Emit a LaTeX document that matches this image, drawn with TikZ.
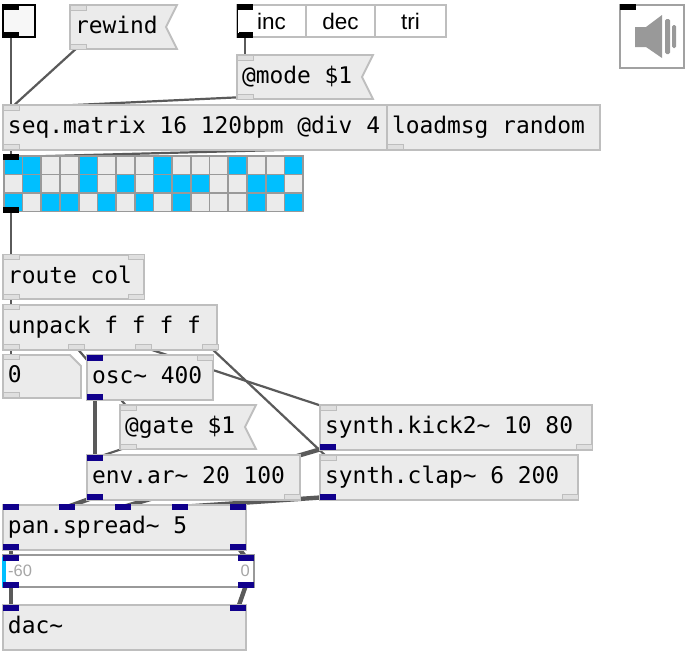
\documentclass[tikz,border=0pt]{standalone}
\usepackage{fontspec}
\setmainfont{Liberation Sans}
\setmonofont{DejaVu Sans Mono}
\definecolor{boxgray}{HTML}{EBEBEB}
\definecolor{edgegray}{HTML}{BEBEBE}
\definecolor{wiregray}{HTML}{5A5A5A}
\definecolor{sigblue}{HTML}{10008C}
\definecolor{stepblue}{HTML}{00BFFF}
\definecolor{gridgray}{HTML}{999999}
\pgfdeclarelayer{wires}
\pgfdeclarelayer{flags}
\pgfsetlayers{wires,flags,main}
\newcommand{\wordgap}{\setlength{\spaceskip}{13.75pt}}
\tikzset{
	obj/.style 2 args = {anchor = north west, inner xsep = 5pt, inner ysep = 0pt, outer sep = 0pt, text width = #1pt - 10pt, minimum height = #2pt, text height = 16pt, text depth = 4pt, align = left, font = \ttfamily\fontsize{22.9}{23}\selectfont, execute at begin node = \wordgap},
	pdbox/.style 2 args = {obj = {#1}{#2}, draw = edgegray, line width = 1.8pt, fill = boxgray},
	pdflag/.style 2 args = {obj = {#1}{#2}},
	flagline/.style = {draw = edgegray, line width = 1.8pt, fill = boxgray, line join = miter},
	tabcell/.style = {anchor = north west, outer sep = 0pt, minimum width = #1pt, minimum height = 32pt, draw = edgegray, line width = 1.8pt, fill = white, font = \fontsize{22.5}{22.5}\selectfont},
	port/.style = {minimum width = 16pt, minimum height = 5pt, inner sep = 0pt, outer sep = 0pt},
	ctlport/.style = {port, fill = boxgray!95!black, draw = edgegray, line width = 1pt},
	sigport/.style = {port, minimum height = 6pt, fill = sigblue},
	uiport/.style = {port, minimum height = 5.5pt, fill = black},
	cell/.style = {minimum width = 17pt, minimum height = 17pt, inner sep = 0pt, outer sep = 0pt},
	wire/.style = {draw = wiregray, line width = 2.2pt},
	sigwire/.style = {draw = wiregray, line width = 4.4pt},
}

\begin{document}
\begin{tikzpicture}[x = 1pt, y = -1pt]
	\useasboundingbox (0, 0) rectangle (688, 656);

	% ui objects
	\node (toggle) at (3, 5) [anchor = north west, minimum width = 32pt, minimum height = 32pt, outer sep = 0pt, draw = black, line width = 2pt, fill = white!97!black] {};
	\node (inc) at (237, 5) [tabcell = 69] {inc};
	\node (dec) at (306, 5) [tabcell = 69] {dec};
	\node (tri) at (375, 5) [tabcell = 71] {tri\hspace{6pt}};
	\node (speaker) at (620, 5) [anchor = north west, minimum width = 64pt, minimum height = 63pt, outer sep = 0pt, draw = edgegray!85!black, line width = 1.6pt, fill = white] {};
	\fill[gridgray] (635, 27) -- (646, 27) -- (662, 15) -- (662, 58) -- (646, 47) -- (635, 47) -- cycle;
	\fill[gridgray, rounded corners = 1.5pt] (665, 19) rectangle (670, 54);
	\fill[gridgray, rounded corners = 1.5pt] (672, 25) rectangle (676, 48);

	% objects
	\node (rewind)  at (70, 5)    [pdflag = {107}{44}] {rewind};
	\node (mode)    at (237, 55)  [pdflag = {136}{44}] {@mode \$1};
	\node (seq)     at (3, 105)   [pdbox = {384}{45}] {seq.matrix 16 120bpm @div 4};
	\node (load)    at (387, 105) [pdbox = {213}{45}] {loadmsg random};
	\node (route)   at (3, 255)   [pdbox = {141}{44}] {route col};
	\node (unpack)  at (3, 305)   [pdbox = {214}{45}] {unpack f f f f};
	\node (num)     at (3, 355)   [pdflag = {78}{43}] {0};
	\node (osc)     at (87, 355)  [pdbox = {126}{45}] {osc\textasciitilde{} 400};
	\node (gate)    at (120, 405) [pdflag = {136}{44}] {@gate \$1};
	\node (kick)    at (320, 405) [pdbox = {272}{45}] {synth.kick2\textasciitilde{} 10 80};
	\node (env)     at (87, 455)  [pdbox = {213}{45}] {env.ar\textasciitilde{} 20 100};
	\node (clap)    at (320, 455) [pdbox = {258}{45}] {synth.clap\textasciitilde{} 6 200};
	\node (pan)     at (3, 505)   [pdbox = {243}{45}] {pan.spread\textasciitilde{} 5};
	\node (dac)     at (3, 605)   [pdbox = {243}{45}] {dac\textasciitilde{}};
	\node (meter)   at (3, 555)   [anchor = north west, minimum width = 251pt, minimum height = 32pt, outer sep = 0pt, draw = gridgray, line width = 1.6pt, fill = white] {};
	\node (cyan)    at (4, 572)   [minimum width = 4pt, minimum height = 30pt, inner sep = 0pt, fill = stepblue] {};
	\node (lo)      at (8, 571)   [anchor = west, inner sep = 0pt, text = gray!70, font = \fontsize{16.5}{16.5}\selectfont] {-60};
	\node (hi)      at (250, 571) [anchor = east, inner sep = 0pt, text = gray!70, font = \fontsize{16.5}{16.5}\selectfont] {0};

	% step matrix
	\node (matrix) at (3, 155) [anchor = north west, minimum width = 301pt, minimum height = 57pt, outer sep = 0pt, fill = gridgray] {};
	\foreach \r/\bits in {0/{1,1,0,0,1,0,0,0,1,0,0,0,1,0,0,1}, 1/{0,1,0,0,1,0,1,0,1,1,1,0,0,1,1,0}, 2/{1,0,1,1,0,1,0,1,0,1,0,0,0,1,0,1}}
		\foreach \b [count = \c from 0] in \bits {
			\ifnum\b=1 \def\cellcol{stepblue}\else \def\cellcol{boxgray}\fi
			\node (cell-\r-\c) at (13.2 + 18.7*\c, 165.2 + 18.7*\r) [cell, fill = \cellcol] {};
		}

	% ports
	\foreach \name/\x/\y in {rewI/78/8, rewO/78/47, modeI/245/58, modeO/245/97, seqI/11/108, seqO/11/147, loadO/395/147, routeI/11/257, routeJ/136/257, routeO/11/297, routeP/136/297, unpI/11/307, unpA/11/347, unpB/76/347, unpC/143/347, unpD/210/347, numI/11/357, numO/11/395, oscJ/205/358, gateI/128/408, gateO/128/447, kickI/328/408, kickP/584/447, clapI/328/458, clapP/570/497, envP/292/497}
		\node[ctlport] (\name) at (\x, \y) {};
	\foreach \name/\x/\y in {oscI/95/358, oscO/95/397, envI/95/458, envO/95/497, kickO/328/447, clapO/328/497, panA/11/507, panB/67/507, panC/123/507, panD/180/507, panE/238/507, panO/11/547, panP/238/547, metI/11/558, metJ/246/558, metO/11/585, metP/246/585, dacI/11/608, dacJ/238/608}
		\node[sigport] (\name) at (\x, \y) {};
	\foreach \name/\x/\y in {togI/11/7, togO/11/35, tabI/245/7, tabO/245/35, matI/11/157, matO/11/210, spkI/628/7}
		\node[uiport] (\name) at (\x, \y) {};
	\fill[white] (236.5, 9.5) rectangle (239, 32.5);
	\draw[black, line width = .8pt] (237, 7) -- (237, 35);

	% flags and the number box
	\begin{pgfonlayer}{flags}
		\foreach \m in {rewind, mode, gate}
			\path[flagline] (\m.north west) -- (\m.north east) -- ([xshift = -11pt] \m.east) -- (\m.south east) -- (\m.south west) -- cycle;
		\path[flagline] (num.north west) -- ([xshift = -11pt] num.north east) -- ([yshift = -11pt] num.north east) -- (num.south east) -- (num.south west) -- cycle;
	\end{pgfonlayer}

	% connections
	\begin{pgfonlayer}{wires}
		\foreach \from/\to in {togO/seqI, rewO/seqI, tabO/modeI, modeO/seqI, seqO/matI, loadO/matI, matO/routeI, routeO/unpI, unpA/numI, unpB/gateI, unpC/kickI, unpD/clapI, gateO/envI}
			\draw[wire] (\from.center) -- (\to.center);
		\foreach \from/\to in {oscO/envI, kickO/panC, envO/panB, clapO/panD, panO/metI, panP/metJ, metO/dacI, metP/dacJ}
			\draw[sigwire] (\from.center) -- (\to.center);
	\end{pgfonlayer}
\end{tikzpicture}
\end{document}
